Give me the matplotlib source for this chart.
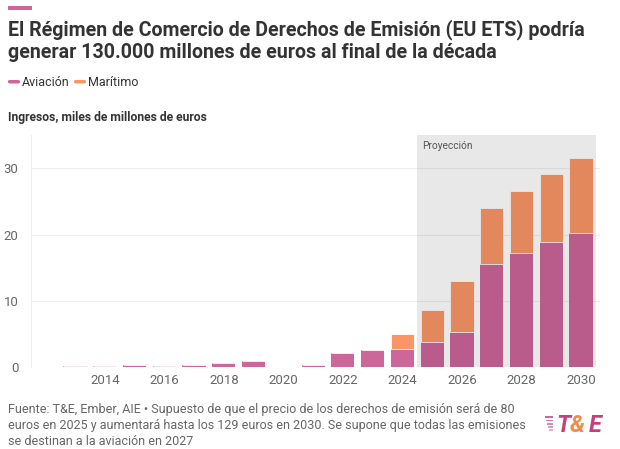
import matplotlib
matplotlib.use("Agg")
import matplotlib.pyplot as plt
from matplotlib.patches import Rectangle, FancyBboxPatch

# data, miles de millones de euros
years = [2013, 2014, 2015, 2016, 2017, 2018, 2019, 2020, 2021, 2022,
         2023, 2024, 2025, 2026, 2027, 2028, 2029, 2030]
aviacion = [0.15, 0.2, 0.3, 0.25, 0.35, 0.7, 0.9, 0.0, 0.4, 2.2,
            2.55, 2.8, 3.8, 5.3, 15.5, 17.2, 18.9, 20.3]
maritimo = [0, 0, 0, 0, 0, 0, 0, 0, 0, 0,
            0, 2.2, 4.8, 7.7, 8.5, 9.4, 10.2, 11.2]
xticks = [2014, 2016, 2018, 2020, 2022, 2024, 2026, 2028, 2030]
yticks = [0, 10, 20, 30]

pink = "#cd6699"
orange = "#fa9566"
txt = "#333333"
grey = "#666666"

plt.rcParams['font.family'] = ['Roboto', 'DejaVu Sans']

fig = plt.figure(figsize=(6.2, 4.49), dpi=100)
W, H = 620, 449
def fx(px): return px / W
def fy(py): return 1 - py / H

ax = fig.add_axes([fx(31), fy(367.3), (600 - 31) / W, (367.3 - 135) / H])

ax.bar(years, aviacion, width=0.78, color=pink, linewidth=0, zorder=2)
ax.bar(years, maritimo, width=0.78, bottom=aviacion, color=orange, edgecolor="white",
       linewidth=0.6, zorder=2)

# projection shading on top of the bars (darkens them slightly)
ax.add_patch(Rectangle((2024.5, 0), 6, 35, facecolor="black", alpha=0.09, linewidth=0, zorder=3))
ax.text(2024.65, 34.1, "Proyección", fontsize=7.3, color="#555555", va="top", zorder=4)

ax.set_xlim(2011.52, 2030.64)
ax.set_ylim(0, 35)
ax.set_xticks(xticks)
ax.set_yticks(yticks)
ax.tick_params(length=0, labelsize=9.5, colors=grey)
ax.tick_params(axis="y", pad=9)
ax.tick_params(axis="x", pad=5)
ax.grid(axis="y", color="#eeeeee", linewidth=0.8, zorder=0)
for s in ["top", "right", "bottom"]:
    ax.spines[s].set_visible(False)
ax.spines["left"].set_color("#eeeeee")
ax.spines["left"].set_linewidth(0.8)

# header
fig.patches.append(Rectangle((fx(8), fy(10)), 24 / W, 4 / H, transform=fig.transFigure,
                             facecolor=pink, edgecolor="none"))
fig.text(fx(8), fy(35), "El Régimen de Comercio de Derechos de Emisión (EU ETS) podría",
         fontsize=14.15, fontweight="bold", color=txt, va="baseline")
fig.text(fx(8), fy(57.5), "generar 130.000 millones de euros al final de la década",
         fontsize=14.15, fontweight="bold", color=txt, va="baseline")

# legend
for x0, c in [(8, pink), (74, orange)]:
    fig.patches.append(FancyBboxPatch((fx(x0), fy(83.5)), 12 / W, 3.5 / H,
                                      boxstyle="round,pad=0,rounding_size=0.003",
                                      transform=fig.transFigure, facecolor=c, edgecolor="none"))
fig.text(fx(22), fy(86), "Aviación", fontsize=9, color=txt, va="baseline")
fig.text(fx(88), fy(86), "Marítimo", fontsize=9, color=txt, va="baseline")

fig.text(fx(8), fy(121), "Ingresos, miles de millones de euros", fontsize=8.7,
         fontweight="bold", color=txt, va="baseline")

# footer
foot = ["Fuente: T&E, Ember, AIE • Supuesto de que el precio de los derechos de emisión será de 80",
        "euros en 2025 y aumentará hasta los 129 euros en 2030. Se supone que todas las emisiones",
        "se destinan a la aviación en 2027"]
for i, line in enumerate(foot):
    fig.text(fx(8), fy(413.5 + i * 15.6), line, fontsize=9.0, color=grey, va="baseline")

# logo
for i, w in enumerate([8, 7, 6, 5, 4]):
    fig.patches.append(Rectangle((fx(545 + (8 - w)), fy(418 + i * 3.3)), w / W, 1.8 / H,
                                 transform=fig.transFigure, facecolor=pink, edgecolor="none",
                                 alpha=1 - i * 0.12))
fig.text(fx(556), fy(432), "T", fontsize=17, fontweight="bold", style="italic",
         color="#c2407c", va="baseline")
fig.text(fx(570), fy(432), "&", fontsize=17, fontweight="bold", style="italic",
         color="#f28a4c", va="baseline")
fig.text(fx(589), fy(432), "E", fontsize=17, fontweight="bold", style="italic",
         color="#c2407c", va="baseline")

fig.savefig("out.png", dpi=100)
